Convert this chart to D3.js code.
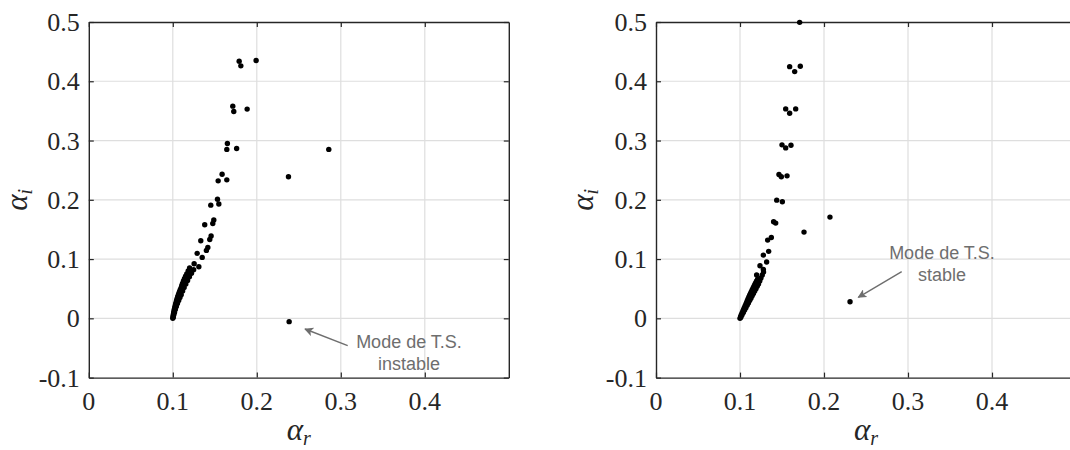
<!DOCTYPE html>
<html>
<head>
<meta charset="utf-8">
<script src="https://cdn.jsdelivr.net/npm/d3@7"></script>
</head>
<body style="margin:0">
<svg id="chart" width="1070" height="450"></svg>
<script>
// ---------- DATA ----------
const xTicks = [0, 0.1, 0.2, 0.3, 0.4];
const xTickLabels = ["0", "0.1", "0.2", "0.3", "0.4"];
const yTicks = [-0.1, 0, 0.1, 0.2, 0.3, 0.4, 0.5];
const yTickLabels = ["-0.1", "0", "0.1", "0.2", "0.3", "0.4", "0.5"];

// Left panel (instable TS mode)
const leftAr = [
  0.1000,0.1003,0.1006,0.1010,0.1014,0.1018,0.1023,0.1028,0.1033,0.1039,0.1045,0.1051,0.1058,0.1065,0.1072,0.1080,0.1088,0.1097,0.1106,0.1116,0.1127,0.1139,0.1152,0.1166,0.1183,0.1200,
  0.1005,0.1012,0.1020,0.1030,0.1042,0.1055,0.1070,0.1085,0.1100,0.1117,0.1135,0.1155,0.1176,0.1198,0.1222,0.1248,
  0.1218,0.1254,0.1310,0.1290,0.1350,0.1333,0.1417,0.1400,0.1456,0.1440,0.1380,0.1488,0.1476,0.1452,0.1532,0.1548,
  0.1587,0.1540,0.1643,0.1650,0.1643,0.1760,0.1714,0.1726,0.1885,0.1790,0.1810,0.1992,0.2377,0.2857,0.2385
];
const leftAi = [
  0.000,0.003,0.006,0.009,0.012,0.015,0.018,0.021,0.024,0.027,0.030,0.033,0.036,0.039,0.042,0.045,0.048,0.051,0.055,0.059,0.063,0.067,0.071,0.075,0.080,0.085,
  0.002,0.006,0.010,0.015,0.020,0.025,0.030,0.035,0.040,0.046,0.052,0.058,0.064,0.070,0.076,0.082,
  0.077,0.092,0.087,0.1096,0.1028,0.131,0.1197,0.1146,0.139,0.133,0.158,0.166,0.160,0.191,0.201,0.193,
  0.243,0.232,0.2337,0.295,0.285,0.2865,0.358,0.349,0.353,0.4337,0.426,0.435,0.239,0.285,-0.0056
];

// Right panel (stable TS mode)
const rightAr = [
  0.1000,0.1008,0.1016,0.1025,0.1034,0.1043,0.1052,0.1061,0.1070,0.1079,0.1088,0.1097,0.1106,0.1115,0.1125,0.1135,0.1145,0.1155,0.1165,0.1176,0.1187,0.1198,0.1210,
  0.1010,0.1025,0.1040,0.1055,0.1070,0.1085,0.1100,0.1115,0.1130,0.1145,0.1160,0.1175,0.1190,0.1205,0.1220,0.1235,0.1250,0.1265,0.1280,
  0.1198,0.1278,0.1238,0.1317,0.1278,0.1341,0.1329,0.1373,0.1400,0.1425,0.1437,0.1504,
  0.1464,0.1492,0.1560,0.1500,0.1544,0.1607,0.1544,0.1591,0.1663,0.1591,0.1651,0.1718,0.1710,
  0.2071,0.1762,0.2310
];
const rightAi = [
  0.000,0.003,0.006,0.009,0.012,0.015,0.018,0.021,0.024,0.027,0.030,0.033,0.036,0.039,0.042,0.045,0.048,0.051,0.054,0.057,0.060,0.063,0.066,
  0.002,0.006,0.010,0.014,0.018,0.022,0.026,0.030,0.034,0.038,0.042,0.046,0.050,0.054,0.058,0.063,0.068,0.073,0.078,
  0.073,0.0826,0.0888,0.095,0.1067,0.113,0.132,0.1365,0.1629,0.1607,0.1994,0.1966,
  0.2427,0.2388,0.2404,0.2927,0.2876,0.2921,0.3534,0.346,0.3534,0.4247,0.4163,0.4253,0.4994,
  0.1708,0.1455,0.0281
];

const leftNote = ["Mode de T.S.", "instable"];
const rightNote = ["Mode de T.S.", "stable"];

// ---------- DRAW ----------
const SERIF = "Liberation Serif";
const SANS = "Liberation Sans";
const INK = "#262626";
const svg = d3.select("#chart");
const defs = svg.append("defs");
defs.append("marker")
  .attr("id", "arrowhead")
  .attr("viewBox", "0 0 10 10")
  .attr("refX", 9).attr("refY", 5)
  .attr("markerWidth", 9).attr("markerHeight", 9)
  .attr("markerUnits", "userSpaceOnUse")
  .attr("orient", "auto")
  .append("path")
  .attr("d", "M0,0 L10,5 L0,10 L2.5,5 Z")
  .attr("fill", "#6e6e6e");

function drawPanel(cfg) {
  const x = d3.scaleLinear().domain([0, 0.5]).range([cfg.left, cfg.left + 420]);
  const y = d3.scaleLinear().domain([-0.1, 0.5]).range([377.6, 22]);
  const g = svg.append("g");

  // grid
  g.append("g").selectAll("line").data(xTicks.filter(d => d > 0)).join("line")
    .attr("x1", d => x(d)).attr("x2", d => x(d))
    .attr("y1", y(-0.1)).attr("y2", y(0.5))
    .attr("stroke", "#dedede").attr("stroke-width", 1.2);
  g.append("g").selectAll("line").data(yTicks.filter(d => d > -0.1 && d < 0.5)).join("line")
    .attr("x1", x(0)).attr("x2", x(0.5))
    .attr("y1", d => y(d)).attr("y2", d => y(d))
    .attr("stroke", "#dedede").attr("stroke-width", 1.2);

  // axes with inward ticks (all four sides); labels drawn separately below
  const tl = 5;
  const axB = g.append("g").attr("transform", `translate(0,${y(-0.1)})`)
    .call(d3.axisBottom(x).tickValues(xTicks).tickSizeInner(-tl).tickSizeOuter(0).tickFormat(""));
  const axT = g.append("g").attr("transform", `translate(0,${y(0.5)})`)
    .call(d3.axisTop(x).tickValues(xTicks).tickSizeInner(-tl).tickSizeOuter(0).tickFormat(""));
  const axL = g.append("g").attr("transform", `translate(${x(0)},0)`)
    .call(d3.axisLeft(y).tickValues(yTicks).tickSizeInner(-tl).tickSizeOuter(0).tickFormat(""));
  const axR = g.append("g").attr("transform", `translate(${x(0.5)},0)`)
    .call(d3.axisRight(y).tickValues(yTicks).tickSizeInner(-tl).tickSizeOuter(0).tickFormat(""));
  [axB, axT, axL, axR].forEach(a => {
    a.selectAll("text").remove();
    a.select(".domain").attr("stroke", INK).attr("stroke-width", 1.4);
    a.selectAll(".tick line").attr("stroke", INK).attr("stroke-width", 1.2);
  });

  // points
  const pts = cfg.ar.map((v, i) => ({ ar: v, ai: cfg.ai[i] }));
  g.append("g").selectAll("circle").data(pts).join("circle")
    .attr("cx", d => x(d.ar)).attr("cy", d => y(d.ai))
    .attr("r", 2.7).attr("fill", "#000");

  // tick labels (direct children of svg)
  xTicks.forEach((d, i) => {
    svg.append("text").attr("x", x(d)).attr("y", 409.5)
      .attr("text-anchor", "middle")
      .attr("font-family", SERIF).attr("font-size", 26).attr("fill", INK)
      .text(xTickLabels[i]);
  });
  yTicks.forEach((d, i) => {
    svg.append("text").attr("x", x(0) - 9).attr("y", y(d) + 9)
      .attr("text-anchor", "end")
      .attr("font-family", SERIF).attr("font-size", 26).attr("fill", INK)
      .text(yTickLabels[i]);
  });

  // axis labels
  const xl = svg.append("text")
    .attr("x", (x(0) + x(0.5)) / 2).attr("y", 440)
    .attr("text-anchor", "middle")
    .attr("font-family", SERIF).attr("font-size", 31).attr("font-style", "italic")
    .attr("fill", INK);
  xl.append("tspan").text("α");
  xl.append("tspan").attr("font-size", 20).attr("dy", 5).text("r");

  const yl = svg.append("text")
    .attr("transform", `translate(${cfg.ylabelX},${(y(-0.1) + y(0.5)) / 2}) rotate(-90)`)
    .attr("text-anchor", "middle")
    .attr("font-family", SERIF).attr("font-size", 31).attr("font-style", "italic")
    .attr("fill", INK);
  yl.append("tspan").text("α");
  yl.append("tspan").attr("font-size", 20).attr("dy", 5).text("i");

  // annotation
  const n = cfg.note;
  n.lines.forEach((s, i) => {
    svg.append("text").attr("x", n.tx).attr("y", n.ty + i * 22)
      .attr("text-anchor", "middle")
      .attr("font-family", SANS).attr("font-size", 18).attr("fill", "#6e6e6e")
      .text(s);
  });
  g.append("line")
    .attr("x1", n.ax1).attr("y1", n.ay1).attr("x2", n.ax2).attr("y2", n.ay2)
    .attr("stroke", "#6e6e6e").attr("stroke-width", 1.4)
    .attr("marker-end", "url(#arrowhead)");
}

drawPanel({
  left: 88.8, ar: leftAr, ai: leftAi, ylabelX: 27,
  note: { lines: leftNote, tx: 409, ty: 348, ax1: 347.7, ay1: 345.7, ax2: 305, ay2: 329 }
});
drawPanel({
  left: 656, ar: rightAr, ai: rightAi, ylabelX: 593,
  note: { lines: rightNote, tx: 942, ty: 259, ax1: 901.7, ay1: 271.7, ax2: 858.3, ay2: 297.3 }
});
</script>
</body>
</html>
